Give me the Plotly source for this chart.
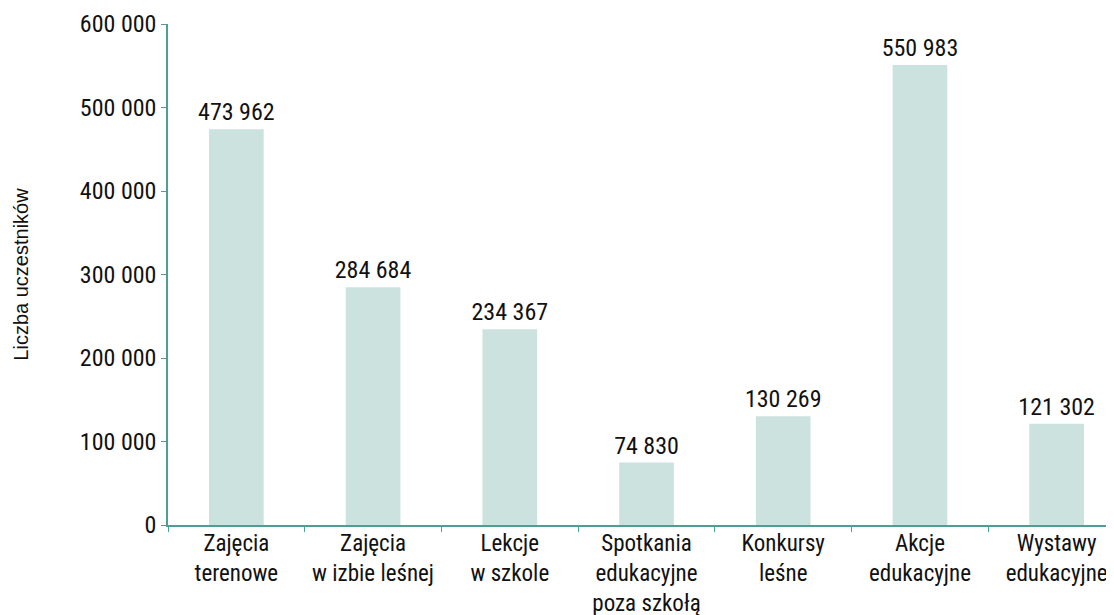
import plotly.graph_objects as go

categories = [
    "Zajęcia<br>terenowe",
    "Zajęcia<br>w izbie leśnej",
    "Lekcje<br>w szkole",
    "Spotkania<br>edukacyjne<br>poza szkołą",
    "Konkursy<br>leśne",
    "Akcje<br>edukacyjne",
    "Wystawy<br>edukacyjne",
]
participants = [473962, 284684, 234367, 74830, 130269, 550983, 121302]
y_ticks = [0, 100000, 200000, 300000, 400000, 500000, 600000]

TEAL = "#4f9e95"
BAR = "#cce2df"
FONT = "Roboto Condensed, Roboto, sans-serif"

fig = go.Figure(
    go.Bar(
        x=categories,
        y=participants,
        marker=dict(color=BAR, line=dict(width=0)),
        width=0.4,
        texttemplate="%{y:,.0f}",
        textposition="outside",
        constraintext="none",
        textfont=dict(size=24, color="#111111", family=FONT),
        cliponaxis=False,
    )
)

fig.update_xaxes(
    range=[-0.5, 6.5],
    showline=True,
    linecolor=TEAL,
    linewidth=1.5,
    ticks="outside",
    tickson="boundaries",
    tickcolor=TEAL,
    ticklen=5,
    ticklabelstandoff=-3,
    tickfont=dict(size=23, color="#111111", family=FONT),
    showgrid=False,
)

fig.update_yaxes(
    range=[0, 600000],
    tickvals=y_ticks,
    tickformat=",.0f",
    showline=True,
    linecolor=TEAL,
    linewidth=1.5,
    ticks="outside",
    tickcolor=TEAL,
    ticklen=5,
    tickfont=dict(size=24, color="#111111", family=FONT),
    showgrid=False,
    zeroline=False,
    title=dict(text="Liczba uczestników",
               font=dict(size=20, color="#111111", family="Liberation Sans, Arial, sans-serif"),
               standoff=46),
)

fig.update_layout(
    width=1117,
    height=615,
    separators=", ",
    plot_bgcolor="white",
    paper_bgcolor="white",
    margin=dict(l=160, r=0, t=16, b=98),
    showlegend=False,
    font=dict(family=FONT),
)

fig.write_html("out.html")
